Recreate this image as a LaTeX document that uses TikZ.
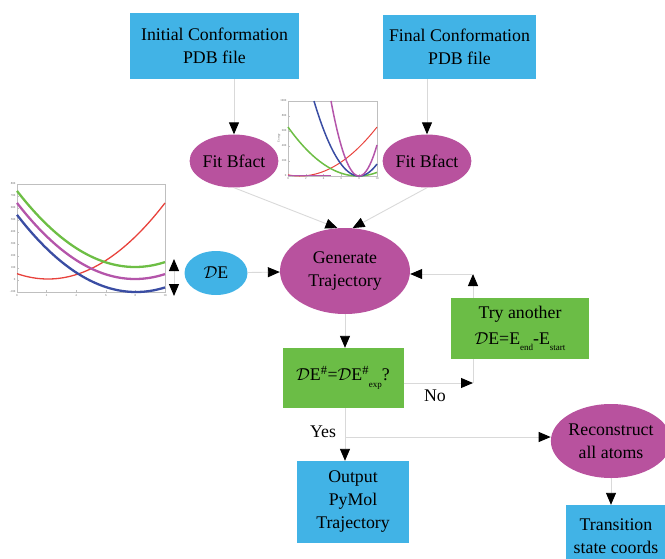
\documentclass[tikz,border=0pt]{standalone}
\usepackage{fontspec}
\setmainfont{Liberation Serif}
\usepackage{amsmath, amssymb}
\usepackage{tikz}
\usetikzlibrary{shapes.geometric, arrows.meta}
\definecolor{boxblue}{HTML}{41B3E6}
\definecolor{ovalpink}{HTML}{B8529E}
\definecolor{boxgreen}{HTML}{6BBD46}
\definecolor{linegray}{HTML}{D9D9D9}
\definecolor{curvered}{HTML}{E8423C}
\definecolor{curvegreen}{HTML}{6DBE45}
\definecolor{curvepink}{HTML}{B455AA}
\definecolor{curveblue}{HTML}{3A4DA3}
\tikzstyle{inout} = [rectangle, inner sep=0pt, text centered, align=center, fill=boxblue]
\tikzstyle{task} = [ellipse, inner sep=0pt, text centered, align=center, fill=ovalpink]
\tikzstyle{test} = [rectangle, inner sep=0pt, text centered, align=center, fill=boxgreen]
\tikzstyle{line} = [draw=linegray, line width=0.9pt]
\tikzstyle{arrow} = [line, -{Triangle[length=12pt,width=10pt,color=black]}]
\tikzstyle{plotframe} = [draw=black!25, line width=0.4pt]
\tikzstyle{ticklabel} = [font=\fontsize{3}{3}\selectfont, inner sep=0.5pt, text=black!60]
\tikzstyle{thickcurve} = [line width=2.3pt]

\begin{document}
\begin{tikzpicture}[x=1pt, y=-1pt, font=\fontsize{17.8}{23}\selectfont]
\useasboundingbox (0,0) rectangle (665,558);

% left energy plot
\draw[plotframe] (17,184) rectangle (165,292);
\foreach \v [count=\i from 0] in {800,700,600,500,400,300,200,100,0,-100} {
  \node[ticklabel, anchor=east] at (16,184+12*\i) {\v};
  \draw[plotframe] (17,184+12*\i) -- ++(2,0);
}
\foreach \v [count=\i from 0] in {0,2,4,6,8,10} {
  \node[ticklabel, anchor=north] at (17+29.6*\i,294) {\v};
  \draw[plotframe] (17+29.6*\i,292) -- ++(0,-2);
}
\draw[curvered, line width=1.3pt] plot[domain=17:165, samples=50, smooth] (\x, {279-0.00555*(\x-48)^2});
\draw[curvegreen, thickcurve] plot[domain=17:165, samples=50, smooth] (\x, {267-0.005458*(\x-135)^2});
\draw[curvepink, thickcurve] plot[domain=17:165, samples=50, smooth] (\x, {279-0.005458*(\x-135)^2});
\draw[curveblue, thickcurve] plot[domain=17:165, samples=50, smooth] (\x, {292-0.00544*(\x-136)^2});

% small energy plot
\draw[plotframe] (288,101) rectangle (377,176);
\foreach \v [count=\i from 0] in {1000,800,600,400,200,0} {
  \node[ticklabel, anchor=east] at (287,101+15*\i) {\v};
  \draw[plotframe] (288,101+15*\i) -- ++(2,0);
}
\foreach \v [count=\i from 0] in {0,2,4,6,8,10} {
  \node[ticklabel, anchor=north] at (288+17.8*\i,177) {\v};
  \draw[plotframe] (288+17.8*\i,176) -- ++(0,-2);
}
\node[ticklabel, rotate=90] at (279,138) {Energy};
\draw[curvered, line width=1pt] plot[domain=288:377, samples=40, smooth] (\x, {176-0.00826*(\x-300)^2});
\draw[curvegreen, line width=1.5pt] plot[domain=288:377, samples=40, smooth] (\x, {176-0.01*(\x-358)^2});
\draw[curveblue, line width=1.5pt] plot[domain=314:377, samples=40, smooth] (\x, {176-0.037*(\x-359)^2});
\draw[curvepink, line width=1.5pt] plot[domain=331:377, samples=40, smooth] (\x, {176-0.0957*(\x-359)^2});
\draw[curvepink, line width=1.5pt] (288,175.5) -- (331,175.5);

% flow chart
\node (initial) [inout, minimum width=169pt, minimum height=66pt] at (214.5,46) {Initial Conformation\\PDB file};
\node (final) [inout, minimum width=153pt, minimum height=64pt] at (459.5,47) {Final Conformation\\PDB file};
\node (fitleft) [task, minimum width=84pt, minimum height=53pt] at (234,161) {Fit Bfact};
\node (fitright) [task, minimum width=84pt, minimum height=53pt] at (427,161) {Fit Bfact};
\node (gentraj) [task, minimum width=130pt, minimum height=86pt] at (345,271) {Generate\\Trajectory};
\node (deltaE) [ellipse, fill=boxblue, inner sep=0pt, minimum width=63pt, minimum height=44pt] at (216,273) {$\mathcal{D}$E};
\node (check) [test, minimum width=121pt, minimum height=60pt] at (343,378) {$\mathcal{D}$E\textsuperscript{\#}=$\mathcal{D}$E\textsuperscript{\#}\raisebox{-0.8ex}{\small exp}?};
\node (tryagain) [test, minimum width=138pt, minimum height=61pt] at (520,328.5) {Try another\\[3pt]$\mathcal{D}$E=E\raisebox{-0.8ex}{\small end}-E\raisebox{-0.8ex}{\small start}};
\node (output) [inout, minimum width=112pt, minimum height=82pt] at (353,502) {Output\\PyMol\\Trajectory};
\node (rebuild) [task, minimum width=108pt, minimum height=74pt] at (611,441) {Reconstruct\\all atoms};
\node (transition) [inout, minimum width=100pt, minimum height=62pt] at (616,536) {Transition\\state coords};

\coordinate (rangetop) at (174,259);
\coordinate (rangebottom) at (174,296);
\coordinate (nocorner) at (473,383);
\coordinate (backcorner) at (473,274);
\coordinate (yescorner) at (345,437);

\draw [arrow] (fitleft.north |- initial.south) -- (fitleft.north);
\draw [arrow] (fitright.north |- final.south) -- (fitright.north);
\draw [arrow] (fitleft.south) -- (gentraj.100);
\draw [arrow] (fitright.south) -- (gentraj.80);
\draw [line, {Triangle[length=12pt,width=10pt,color=black]}-{Triangle[length=12pt,width=10pt,color=black]}] (rangetop) -- (rangebottom);
\draw [arrow] (deltaE) -- (gentraj);
\draw [arrow] (gentraj.south) -- (gentraj.south |- check.north);
\draw [arrow] (check.east |- nocorner) -- (nocorner);
\draw [line] (nocorner) -- (nocorner |- tryagain.south);
\draw [arrow] (nocorner |- tryagain.north) -- (backcorner);
\draw [arrow] (backcorner) -- (gentraj.east |- backcorner);
\draw [line] (check.south -| yescorner) -- (yescorner);
\draw [arrow] (yescorner) -- (yescorner |- output.north);
\draw [arrow] (yescorner) -- (rebuild.west |- yescorner);
\draw [arrow] (rebuild.south) -- (rebuild.south |- transition.north);

\node (nolabel) at (435,396) {No};
\node (yeslabel) at (323,432) {Yes};
\end{tikzpicture}
\end{document}
